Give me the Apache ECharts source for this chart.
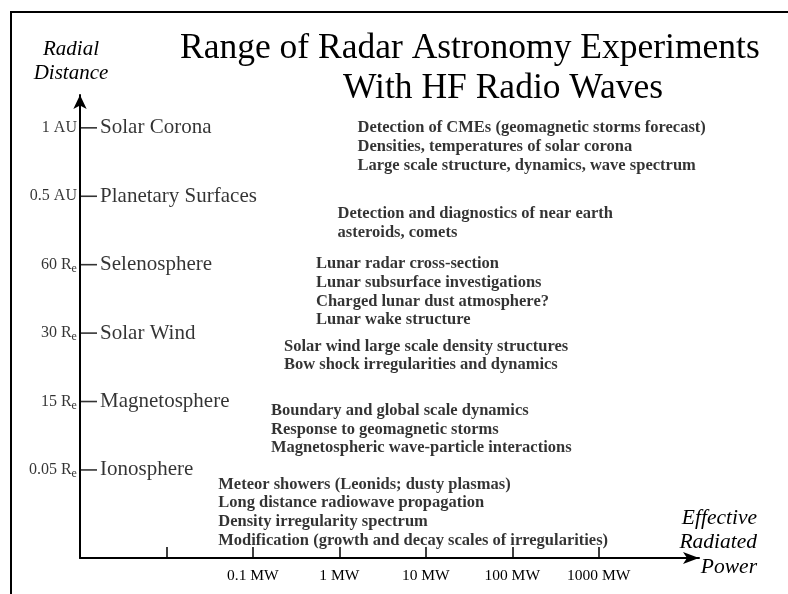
<!DOCTYPE html>
<html><head><meta charset="utf-8">
<script src="https://cdn.jsdelivr.net/npm/echarts@6/dist/echarts.min.js"></script>
<style>html,body{margin:0;padding:0;background:#fff}#c{width:788px;height:594px}</style>
</head><body><div id="c"></div>
<script>
// ---- data ----
const levelNames = ['Ionosphere', 'Magnetosphere', 'Solar Wind', 'Selenosphere', 'Planetary Surfaces', 'Solar Corona'];
const levelDistance = ['0.05 R', '15 R', '30 R', '60 R', '0.5 AU', '1 AU'];
const levelDistanceSub = ['e', 'e', 'e', 'e', '', ''];
const powerTicks = [-2, -1, 0, 1, 2, 3];            // log10(MW)
const powerLabels = ['', '0.1 MW', '1 MW', '10 MW', '100 MW', '1000 MW'];
const experimentPower = [-1.40, -0.79, -0.64, -0.27, -0.02, 0.21]; // log10(MW) where each group starts
const experimentLines = [
  ['Meteor showers (Leonids; dusty plasmas)', 'Long distance radiowave propagation', 'Density irregularity spectrum', 'Modification (growth and decay scales of irregularities)'],
  ['Boundary and global scale dynamics', 'Response to geomagnetic storms', 'Magnetospheric wave-particle interactions'],
  ['Solar wind large scale density structures', 'Bow shock irregularities and dynamics'],
  ['Lunar radar cross-section', 'Lunar subsurface investigations', 'Charged lunar dust atmosphere?', 'Lunar wake structure'],
  ['Detection and diagnostics of near earth', 'asteroids, comets'],
  ['Detection of CMEs (geomagnetic storms forecast)', 'Densities, temperatures of solar corona', 'Large scale structure, dynamics, wave spectrum']
];
// ---- layout / style ----
const noteDy = [5, 0, 4, -10, 8, -9];
const serif = "'Liberation Serif', 'DejaVu Serif', serif";
const ink = '#000';
const xMin = -3, xMax = 4.16, yMin = -1.287, yMax = 5.48;

const chart = echarts.init(document.getElementById('c'));
chart.setOption({
  animation: false,
  backgroundColor: '#fff',
  title: [
    { text: 'Range of Radar Astronomy Experiments', left: 175, top: 26,
      textStyle: { fontFamily: serif, fontSize: 35.5, fontWeight: 'normal', color: ink } },
    { text: 'With HF Radio Waves', left: 338, top: 66,
      textStyle: { fontFamily: serif, fontSize: 35.5, fontWeight: 'normal', color: ink } }
  ],
  graphic: [
    { type: 'rect', shape: { x: 11, y: 12, width: 800, height: 600 }, style: { fill: 'none', stroke: ink, lineWidth: 2 }, silent: true },
    { type: 'text', x: 71, y: 37, style: { text: 'Radial\nDistance', fontFamily: serif, fontStyle: 'italic', fontSize: 21, lineHeight: 24, align: 'center', fill: ink } },
    { type: 'text', x: 757, y: 506, style: { text: 'Effective\nRadiated\nPower', fontFamily: serif, fontStyle: 'italic', fontSize: 21.5, lineHeight: 24.5, align: 'right', fill: ink } }
  ],
  grid: { left: 80, right: 89, top: 95, bottom: 36, outerBoundsMode: 'none' },
  xAxis: {
    type: 'value', min: xMin, max: xMax, interval: 1,
    axisLine: { show: true, onZero: false, symbol: ['none', 'arrow'], symbolSize: [9, 16], lineStyle: { color: ink, width: 2 } },
    axisTick: { show: true, inside: true, length: 11, customValues: powerTicks, lineStyle: { color: ink, width: 1.5 } },
    axisLabel: { customValues: powerTicks, margin: 10, fontFamily: serif, fontSize: 15.5, color: ink,
      formatter: v => { const i = powerTicks.indexOf(v); return i >= 0 ? powerLabels[i] : ''; } },
    splitLine: { show: false }
  },
  yAxis: {
    type: 'value', min: yMin, max: yMax,
    axisLine: { show: true, onZero: false, symbol: ['none', 'arrow'], symbolSize: [10, 14], lineStyle: { color: ink, width: 2 } },
    axisTick: { show: false }, axisLabel: { show: false }, splitLine: { show: false }
  },
  series: [
    { // level ticks on radial axis
      type: 'scatter', silent: true, clip: false,
      symbol: 'rect', symbolSize: [17, 1.6], symbolOffset: [8.5, 0],
      itemStyle: { color: ink },
      data: levelNames.map((n, i) => [xMin, i])
    },
    { // distance labels (left)
      type: 'scatter', silent: true, clip: false, symbolSize: 0.1, itemStyle: { color: 'transparent' },
      label: { show: true, position: 'left', distance: 3, color: ink,
        formatter: p => '{n|' + levelDistance[p.dataIndex] + '}' + (levelDistanceSub[p.dataIndex] ? '{s|' + levelDistanceSub[p.dataIndex] + '}' : ''),
        rich: { n: { fontFamily: serif, fontSize: 16, color: ink, lineHeight: 18 },
                s: { fontFamily: serif, fontSize: 12, color: ink, lineHeight: 18, padding: [8, 0, 0, 0] } } },
      data: levelNames.map((n, i) => [xMin, i])
    },
    { // region names (right)
      type: 'scatter', silent: true, clip: false, symbolSize: 0.1, itemStyle: { color: 'transparent' },
      label: { show: true, position: 'right', distance: 20, fontFamily: serif, fontSize: 21, color: ink,
        formatter: p => levelNames[p.dataIndex] },
      data: levelNames.map((n, i) => [xMin, i])
    },
    { // experiment notes
      type: 'scatter', silent: true, clip: false, symbolSize: 0.1, itemStyle: { color: 'transparent' },
      label: { show: true, align: 'left', verticalAlign: 'top', fontFamily: serif, fontWeight: 'bold', fontSize: 16.5, lineHeight: 18.7, color: ink,
        formatter: p => experimentLines[p.dataIndex].join('\n') },
      data: experimentPower.map((x, i) => ({ value: [x, i], label: { position: [0, noteDy[i]] } }))
    }
  ]
});
</script>
</body></html>
